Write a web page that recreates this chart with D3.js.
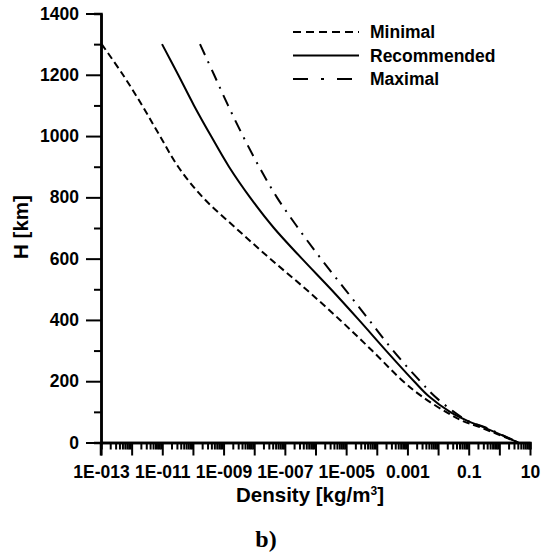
<!DOCTYPE html>
<html>
<head>
<meta charset="utf-8">
<script src="https://cdn.jsdelivr.net/npm/d3@7"></script>
<style>
  body { margin: 0; background: #fff; }
  svg text { font-family: "Liberation Sans", Arial, sans-serif; font-weight: bold; fill: #000; }
</style>
</head>
<body>
<svg id="chart" width="541" height="556"></svg>
<script>
// Altitude levels (km) at which the curves were read
const heights = [1300, 1200, 1100, 1000, 900, 800, 700, 600, 500, 400, 300, 200, 150, 100, 70, 50, 0];

// Density (kg/m3) for each model
const minimal = [1.05e-13, 5.2e-13, 2.2e-12, 8.4e-12, 3.3e-11, 2.1e-10, 2.5e-9, 3.3e-8, 4.9e-7, 6.3e-6, 7.0e-5, 7.2e-4, 3.0e-3, 1.8e-2, 6.5e-2, 0.23, 4.1];
const recommended = [9.8e-12, 3.3e-11, 1.08e-10, 3.9e-10, 1.5e-9, 7.3e-9, 4.4e-8, 3.6e-7, 3.2e-6, 2.6e-5, 2.0e-4, 1.64e-3, 5.1e-3, 2.45e-2, 9.5e-2, 0.30, 4.1];
const maximal = [1.7e-10, 4.9e-10, 1.4e-9, 4.3e-9, 1.44e-8, 5.5e-8, 2.7e-7, 1.5e-6, 9.2e-6, 5.6e-5, 3.4e-4, 2.6e-3, 7.9e-3, 3.3e-2, 9.5e-2, 0.34, 4.1];

const seriesNames = ["Minimal", "Recommended", "Maximal"];
const yTicks = [0, 200, 400, 600, 800, 1000, 1200, 1400];

const svg = d3.select("#chart");

const x = d3.scaleLog().domain([1e-13, 10]).range([101, 530]);
const y = d3.scaleLinear().domain([0, 1400]).range([442.5, 13.5]);

// Line styles per series
const dashes = { "Minimal": "7,4", "Recommended": null, "Maximal": "12,7,2,7" };
const legendDashes = { "Minimal": "8,5", "Recommended": null, "Maximal": "15,13,3,13" };

const series = [
    { name: "Minimal", values: minimal },
    { name: "Recommended", values: recommended },
    { name: "Maximal", values: maximal }
];

const line = d3.line()
    .x(d => x(d.density))
    .y(d => y(d.h))
    .curve(d3.curveCatmullRom.alpha(0.5));

svg.selectAll(".curve")
    .data(series)
    .enter().append("path")
    .attr("class", "curve")
    .attr("d", s => line(s.values.map((v, i) => ({ density: v, h: heights[i] }))))
    .attr("fill", "none")
    .attr("stroke", "#000")
    .attr("stroke-width", 2)
    .attr("stroke-dasharray", s => dashes[s.name]);

// X axis: decades (major) and 2..9 (minor)
const decades = d3.range(-13, 2).map(e => Math.pow(10, e));
const minors = [];
d3.range(-13, 1).forEach(e => {
    for (let k = 2; k <= 9; k++) minors.push(k * Math.pow(10, e));
});

function xLabel(v) {
    const e = Math.round(Math.log10(v));
    if ((e + 13) % 2 !== 0) return "";
    if (e <= -5) return "1E-" + String(-e).padStart(3, "0");
    if (e === -3) return "0.001";
    if (e === -1) return "0.1";
    return "10";
}

const xMinor = svg.append("g")
    .attr("transform", `translate(0,${y(0)})`)
    .call(d3.axisBottom(x).tickValues(minors).tickSize(7).tickFormat(""));

const xAxis = svg.append("g")
    .attr("transform", `translate(0,${y(0)})`)
    .call(d3.axisBottom(x).tickValues(decades).tickSize(13).tickSizeOuter(0).tickFormat(xLabel));

xAxis.selectAll("text")
    .attr("y", 23)
    .attr("dy", "0.71em")
    .style("font-size", "17.5px");

// Y axis
const yMinor = svg.append("g")
    .attr("transform", `translate(${x(1e-13)},0)`)
    .call(d3.axisLeft(y).tickValues(d3.range(100, 1400, 200)).tickSize(7).tickFormat(""));

const yAxis = svg.append("g")
    .attr("transform", `translate(${x(1e-13)},0)`)
    .call(d3.axisLeft(y).tickValues(yTicks).tickSize(15).tickSizeOuter(0).tickFormat(d3.format("d")));

yAxis.selectAll("text")
    .attr("x", -22)
    .style("font-size", "17.5px");

[xMinor, xAxis, yMinor, yAxis].forEach(g => {
    g.selectAll("path, line").attr("stroke", "#000").attr("stroke-width", 2);
    g.select(".domain").attr("stroke-width", 2.5);
});

// extend y axis a bit below the x axis, as in the original
svg.append("line")
    .attr("x1", x(1e-13)).attr("x2", x(1e-13))
    .attr("y1", y(0)).attr("y2", y(0) + 13)
    .attr("stroke", "#000").attr("stroke-width", 2.5);

// Axis titles
const xTitle = svg.append("text")
    .attr("x", 310)
    .attr("y", 502)
    .attr("text-anchor", "middle")
    .style("font-size", "20.5px")
    .text("Density [kg/m");
xTitle.append("tspan").attr("dy", -7).style("font-size", "12px").text("3");
xTitle.append("tspan").attr("dy", 7).text("]");

svg.append("text")
    .attr("transform", "rotate(-90)")
    .attr("x", -227)
    .attr("y", 28)
    .attr("text-anchor", "middle")
    .style("font-size", "20.5px")
    .text("H [km]");

svg.append("text")
    .attr("x", 266)
    .attr("y", 547)
    .attr("text-anchor", "middle")
    .style("font-family", "'Liberation Serif', 'Times New Roman', serif")
    .style("font-size", "24px")
    .text("b)");

// Legend
const legend = svg.selectAll(".legend")
    .data(seriesNames)
    .enter().append("g")
    .attr("class", "legend")
    .attr("transform", (d, i) => `translate(293,${32 + i * 23.5})`);

legend.append("line")
    .attr("x1", 0).attr("x2", 66)
    .attr("stroke", "#000")
    .attr("stroke-width", 2)
    .attr("stroke-dasharray", d => legendDashes[d]);

legend.append("text")
    .attr("x", 77)
    .attr("y", 0)
    .attr("dy", "0.35em")
    .style("font-size", "17.5px")
    .text(d => d);
</script>
</body>
</html>
